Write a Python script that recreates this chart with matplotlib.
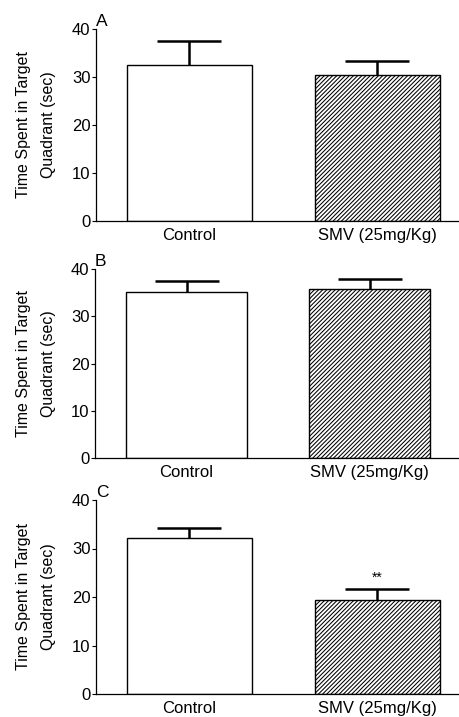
import matplotlib
matplotlib.use("Agg")
import matplotlib.pyplot as plt

plt.rcParams['font.family'] = ['Liberation Sans', 'DejaVu Sans']
plt.rcParams['hatch.linewidth'] = 0.75
plt.rcParams['hatch.color'] = '#4a4a4a'

groups = ["Control", "SMV (25mg/Kg)"]
panel_labels = ["A", "B", "C"]
means_A = [32.6, 30.5]
sem_A = [4.8, 2.8]
means_B = [35.1, 35.8]
sem_B = [2.4, 2.0]
means_C = [32.1, 19.4]
sem_C = [2.1, 2.2]
sig_C = ["", "**"]

means = [means_A, means_B, means_C]
sems = [sem_A, sem_B, sem_C]
sigs = [["", ""], ["", ""], sig_C]

fig = plt.figure(figsize=(4.59, 7.17), dpi=100)
W, H = 459, 717
# axes boxes in pixels: left, top, bottom
boxes = [(96, 29, 221), (95, 269, 458), (96, 500, 694)]
xlims = [(-0.497, 1.434), (-0.50, 1.489), (-0.497, 1.434)]

for i, (l, t, b) in enumerate(boxes):
    ax = fig.add_axes([l / W, 1 - b / H, (W - l) / W, (b - t) / H])
    xs = [0, 1]
    ax.bar(xs[0], means[i][0], width=0.665, color='white', edgecolor='black', linewidth=1.0)
    ax.bar(xs[1], means[i][1], width=0.665, color='white', edgecolor='black', linewidth=1.0,
           hatch='////////')
    eb = ax.errorbar(xs, means[i], yerr=[[0, 0], sems[i]], fmt='none', ecolor='black',
                     elinewidth=1.8, capsize=23, capthick=1.8)
    caps = eb[1]
    if len(caps) >= 2:
        caps[0].set_visible(False)
    for x, m, s, st in zip(xs, means[i], sems[i], sigs[i]):
        if st:
            ax.text(x, m + s + 1.0, st, ha='center', va='bottom', fontsize=10)
    ax.set_ylim(0, 40)
    ax.set_xlim(*xlims[i])
    ax.set_yticks([0, 10, 20, 30, 40])
    ax.set_xticks(xs)
    ax.set_xticklabels(groups, fontsize=12)
    ax.tick_params(axis='x', length=0, pad=5)
    ax.tick_params(axis='y', length=3, width=0.8, labelsize=12, pad=1)
    for sp in ['top', 'right']:
        ax.spines[sp].set_visible(False)
    for sp in ['left', 'bottom']:
        ax.spines[sp].set_linewidth(0.9)
    fig.text(36 / W, 1 - (t + b) / 2 / H, "Time Spent in Target\nQuadrant (sec)",
             rotation=90, ha='center', va='center', fontsize=11.5, linespacing=1.75,
             multialignment='center')
    ax.text(0.0, 1.0, panel_labels[i], transform=ax.transAxes, ha='left', va='bottom',
            fontsize=12.5)
    ax.patch.set_visible(False)

fig.savefig("out.png", dpi=100, facecolor='white')
